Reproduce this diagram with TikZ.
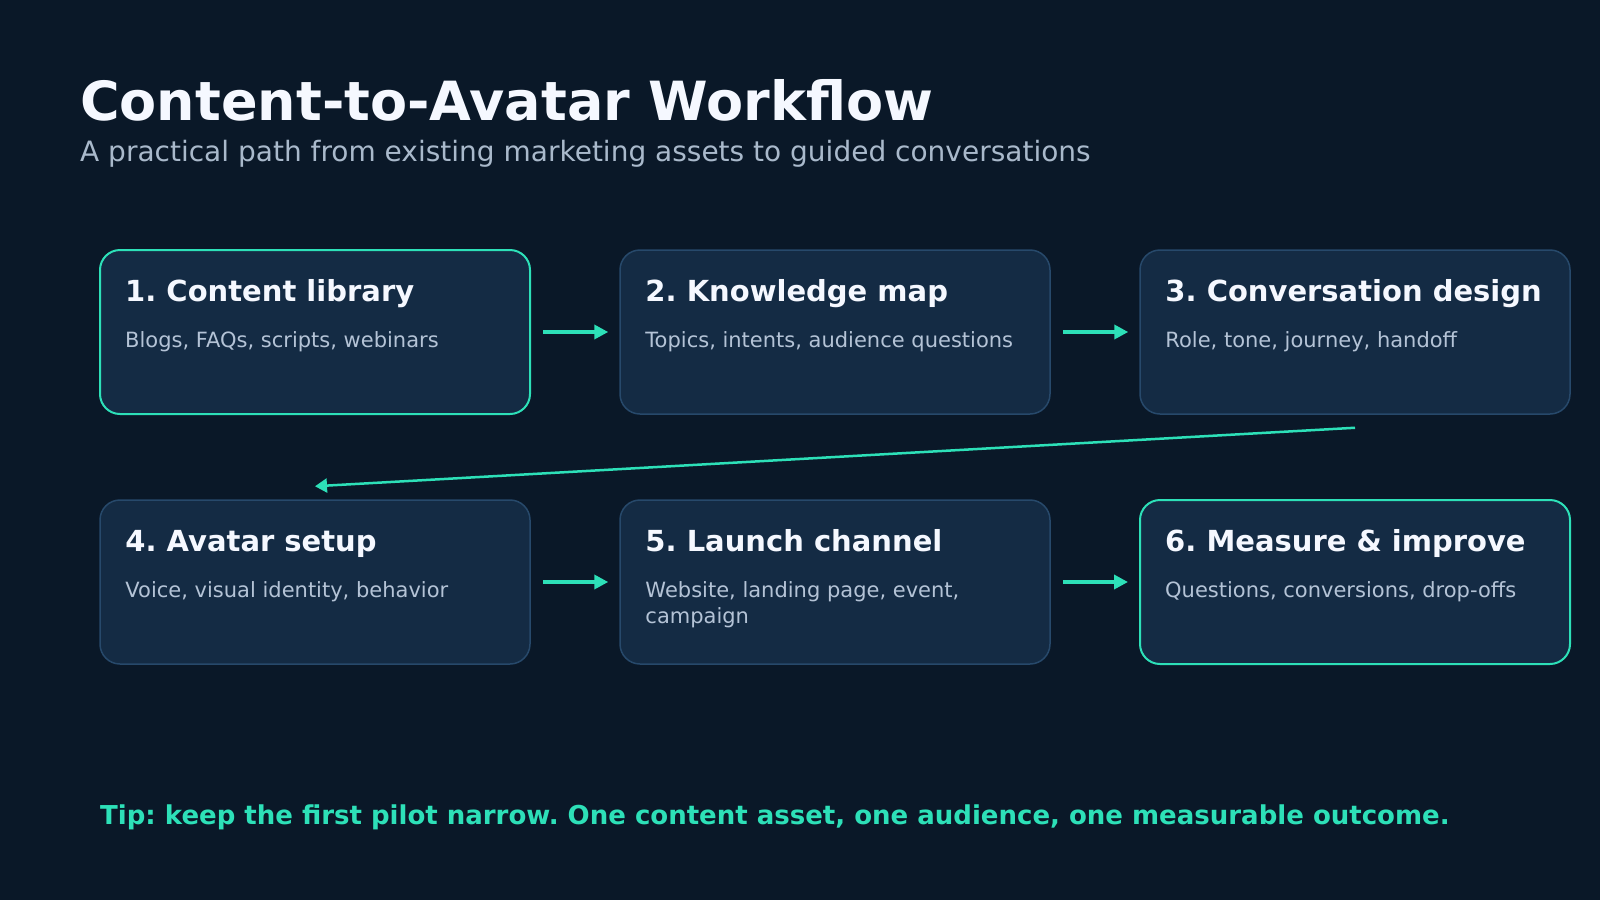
\documentclass[tikz,border=0pt]{standalone}
\usepackage{fontspec}
\setmainfont{DejaVu Sans}
\usetikzlibrary{arrows.meta}
\definecolor{bgnavy}{HTML}{0A1828}
\definecolor{cardfill}{HTML}{142B44}
\definecolor{cardedge}{HTML}{27496B}
\definecolor{accent}{HTML}{2DE0B8}
\definecolor{headwhite}{HTML}{F5F8FF}
\definecolor{desctext}{HTML}{B4C3D6}
\definecolor{subtext}{HTML}{A9B9CB}
\tikzset{
  card/.style={draw=cardedge, line width=1.5pt, fill=cardfill, rounded corners=20pt,
    minimum width=430pt, minimum height=164pt, inner sep=0pt},
  cardhi/.style={card, draw=accent, line width=2pt},
  cardtitle/.style={anchor=base west, inner sep=0pt, text=headwhite,
    font=\fontsize{29}{34}\selectfont\bfseries},
  carddesc/.style={anchor=base west, inner sep=0pt, text=desctext,
    font=\fontsize{21}{26}\selectfont},
  flow/.style={draw=accent, line width=4pt, -{Triangle[length=14pt,width=14pt]},
    shorten <=12pt, shorten >=11pt},
  nextrow/.style={draw=accent, line width=2.5pt, -{Triangle[length=12pt,width=14pt]}}
}
\frenchspacing
\begin{document}
\begin{tikzpicture}[x=1pt,y=-1pt]
    \fill[bgnavy] (0,0) rectangle (1600,900);
    \useasboundingbox (0,0) rectangle (1600,900);
    % heading
    \node[anchor=base west, inner sep=0pt, text=headwhite, font=\fontsize{54}{62}\selectfont\bfseries]
        (heading) at (80,120) {Content-to-Avatar Workflow};
    \node[anchor=base west, inner sep=0pt, text=subtext, font=\fontsize{28}{34}\selectfont]
        (subheading) at (80,161) {A practical path from existing marketing assets to guided conversations};
    % first row
    \node[cardhi] (b1) at (315,332) {};
    \node[card]   (b2) at (835,332) {};
    \node[card]   (b3) at (1355,332) {};
    % second row
    \node[card]   (b4) at (315,582) {};
    \node[card]   (b5) at (835,582) {};
    \node[cardhi] (b6) at (1355,582) {};
    % texts
    \node[cardtitle] (t1) at ([shift={(26,52)}]b1.north west) {1. Content library};
    \node[carddesc]  (d1) at ([shift={(26,98)}]b1.north west) {Blogs, FAQs, scripts, webinars};
    \node[cardtitle] (t2) at ([shift={(26,52)}]b2.north west) {2. Knowledge map};
    \node[carddesc]  (d2) at ([shift={(26,98)}]b2.north west) {Topics, intents, audience questions};
    \node[cardtitle] (t3) at ([shift={(26,52)}]b3.north west) {3. Conversation design};
    \node[carddesc]  (d3) at ([shift={(26,98)}]b3.north west) {Role, tone, journey, handoff};
    \node[cardtitle] (t4) at ([shift={(26,52)}]b4.north west) {4. Avatar setup};
    \node[carddesc]  (d4) at ([shift={(26,98)}]b4.north west) {Voice, visual identity, behavior};
    \node[cardtitle] (t5) at ([shift={(26,52)}]b5.north west) {5. Launch channel};
    \node[carddesc]  (d5) at ([shift={(26,98)}]b5.north west) {Website, landing page, event,};
    \node[carddesc]  (d5b) at ([shift={(26,124)}]b5.north west) {campaign};
    \node[cardtitle] (t6) at ([shift={(26,52)}]b6.north west) {6. Measure \& improve};
    \node[carddesc]  (d6) at ([shift={(26,98)}]b6.north west) {Questions, conversions, drop-offs};
    % connectors
    \draw[flow] (b1) -- (b2);
    \draw[flow] (b2) -- (b3);
    \draw[nextrow] ([yshift=-13pt]b3.south) -- ([yshift=13pt]b4.north);
    \draw[flow] (b4) -- (b5);
    \draw[flow] (b5) -- (b6);
    % footer
    \node[anchor=base west, inner sep=0pt, text=accent, font=\fontsize{26}{30}\selectfont\bfseries]
        (tip) at (100,824) {Tip: keep the first pilot narrow. One content asset, one audience, one measurable outcome.};
\end{tikzpicture}
\end{document}
